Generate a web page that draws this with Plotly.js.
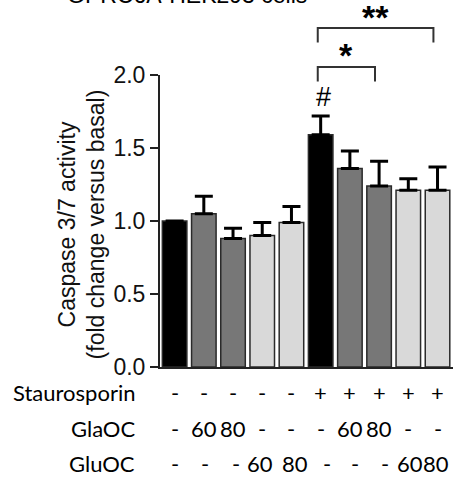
<!DOCTYPE html>
<html>
<head>
<meta charset="utf-8">
<script src="https://cdn.plot.ly/plotly-3.0.1.min.js"></script>
<style>
  html, body { margin: 0; padding: 0; background: #fff; }
  #chart { width: 454px; height: 479px; }
</style>
</head>
<body>
<div id="chart"></div>
<script>
// ---- data ----
const categories = ['Basal', 'GlaOC 60', 'GlaOC 80', 'GluOC 60', 'GluOC 80',
                    'STS', 'STS+GlaOC 60', 'STS+GlaOC 80', 'STS+GluOC 60', 'STS+GluOC 80'];
const meanValues = [1.00, 1.05, 0.88, 0.90, 0.99, 1.59, 1.36, 1.24, 1.21, 1.21];
const semValues  = [0.00, 0.12, 0.07, 0.09, 0.11, 0.13, 0.12, 0.17, 0.08, 0.16];
const barGroups  = ['black', 'dark', 'dark', 'light', 'light', 'black', 'dark', 'dark', 'light', 'light'];
const rowNames   = ['Staurosporin', 'GlaOC', 'GluOC'];
const staurosporinRow = ['-', '-', '-', '-', '-', '+', '+', '+', '+', '+'];
const glaOCRow        = ['-', '60', '80', '-', '-', '-', '60', '80', '-', '-'];
const gluOCRow        = ['-', '-', '-', '60', '80', '-', '-', '-', '60', '80'];
const yTickVals  = [0, 0.5, 1.0, 1.5, 2.0];
const yTickText  = ['0.0', '0.5', '1.0', '1.5', '2.0'];
const yTitleLines = ['Caspase 3/7 activity', '(fold change versus basal)'];
const heading    = 'GPRC6A-HEK293 cells';
const hashOn     = [5];              // '#' vs basal
const comparisons = [                // significance brackets
  { from: 5, to: 7, label: '*' },
  { from: 5, to: 9, label: '**' }
];

// ---- style ----
const groupColors = { black: '#000000', dark: '#777777', light: '#d9d9d9' };
const yMax = 2.0;
const axisColor = '#222222';
const sansFont = 'Liberation Sans, Arial, sans-serif';
const rowFont = 'Lato, Open Sans, sans-serif';
const bracketLevels = [ { top: 2.055, leg: 0.10, text: 2.135 },
                        { top: 2.322, leg: 0.10, text: 2.40 } ];
const rowY = [-0.089, -0.209, -0.329];
const gluShift = [0, 1, 3, -2, 4, 6, 5, 6, 2, -2];
const rows = [staurosporinRow, glaOCRow, gluOCRow];

const trace = {
  type: 'bar',
  x: categories,
  y: meanValues,
  marker: {
    color: barGroups.map(g => groupColors[g]),
    line: { color: '#2a2a2a', width: 1.5 }
  },
  error_y: {
    type: 'data',
    symmetric: false,
    array: semValues,
    arrayminus: semValues.map(() => 0),
    color: '#000000',
    thickness: 3,
    width: 9
  },
  hoverinfo: 'skip'
};

const shapes = [];
const annotations = [];

comparisons.forEach((c, i) => {
  const lv = bracketLevels[i];
  const x0 = c.from - 0.1, x1 = c.to - 0.14;
  shapes.push({
    type: 'path', xref: 'x', yref: 'paper',
    path: `M ${x0},${(lv.top - lv.leg) / yMax} L ${x0},${lv.top / yMax} L ${x1},${lv.top / yMax} L ${x1},${(lv.top - lv.leg) / yMax}`,
    line: { color: '#333333', width: 2 }
  });
  annotations.push({
    xref: 'x', yref: 'paper', x: (x0 + x1) / 2 - 0.02, y: lv.text / yMax,
    text: '<b>' + c.label + '</b>', showarrow: false, xanchor: 'center', yanchor: 'middle',
    font: { family: sansFont, size: 34, color: '#000' }
  });
});

hashOn.forEach(i => {
  annotations.push({
    xref: 'x', yref: 'paper', x: i + 0.08, y: (meanValues[i] + semValues[i] + 0.13) / yMax,
    text: '#', showarrow: false, xanchor: 'center', yanchor: 'middle',
    font: { family: sansFont, size: 27, color: '#000' }
  });
});

rows.forEach((row, r) => {
  annotations.push({
    xref: 'paper', yref: 'paper', x: -0.078, y: rowY[r],
    text: rowNames[r], showarrow: false, xanchor: 'right', yanchor: 'middle',
    font: { family: rowFont, size: 22, color: '#000' }
  });
  row.forEach((t, i) => {
    annotations.push({
      xref: 'x', yref: 'paper', x: i, y: rowY[r],
      xshift: r === 2 ? gluShift[i] : 0,
      text: t, showarrow: false, xanchor: 'center', yanchor: 'middle',
      font: { family: rowFont, size: 22, color: '#000' }
    });
  });
});

// y-axis title (two lines, rotated)
annotations.push({
  xref: 'paper', yref: 'paper', x: -0.268, y: 0.49,
  text: yTitleLines.join('<br>'), showarrow: false, textangle: -90,
  xanchor: 'center', yanchor: 'middle',
  font: { family: sansFont, size: 23, color: '#111' }
});

// heading, clipped at the very top as in the source figure
annotations.push({
  xref: 'paper', yref: 'paper', x: 0.091, y: 1.224,
  text: heading, showarrow: false, xanchor: 'center', yanchor: 'bottom',
  font: { family: sansFont, size: 23, color: '#000' }
});

const layout = {
  width: 454, height: 479,
  margin: { l: 160, r: 1, t: 75, b: 112, pad: 0 },
  paper_bgcolor: '#ffffff',
  plot_bgcolor: '#ffffff',
  showlegend: false,
  bargap: 0.16,
  xaxis: {
    type: 'category',
    range: [-0.5, 9.53],
    showline: true, linecolor: axisColor, linewidth: 2,
    showticklabels: false, ticks: '', showgrid: false, zeroline: false,
    fixedrange: true
  },
  yaxis: {
    range: [0, yMax],
    tickvals: yTickVals, ticktext: yTickText,
    ticks: 'outside', ticklen: 8, tickwidth: 2, tickcolor: axisColor,
    showline: true, linecolor: axisColor, linewidth: 2,
    showgrid: false, zeroline: false,
    tickfont: { family: sansFont, size: 23, color: '#111' },
    automargin: false,
    fixedrange: true
  },
  shapes: shapes,
  annotations: annotations
};

Plotly.newPlot('chart', [trace], layout, { displayModeBar: false, staticPlot: true });
</script>
</body>
</html>
